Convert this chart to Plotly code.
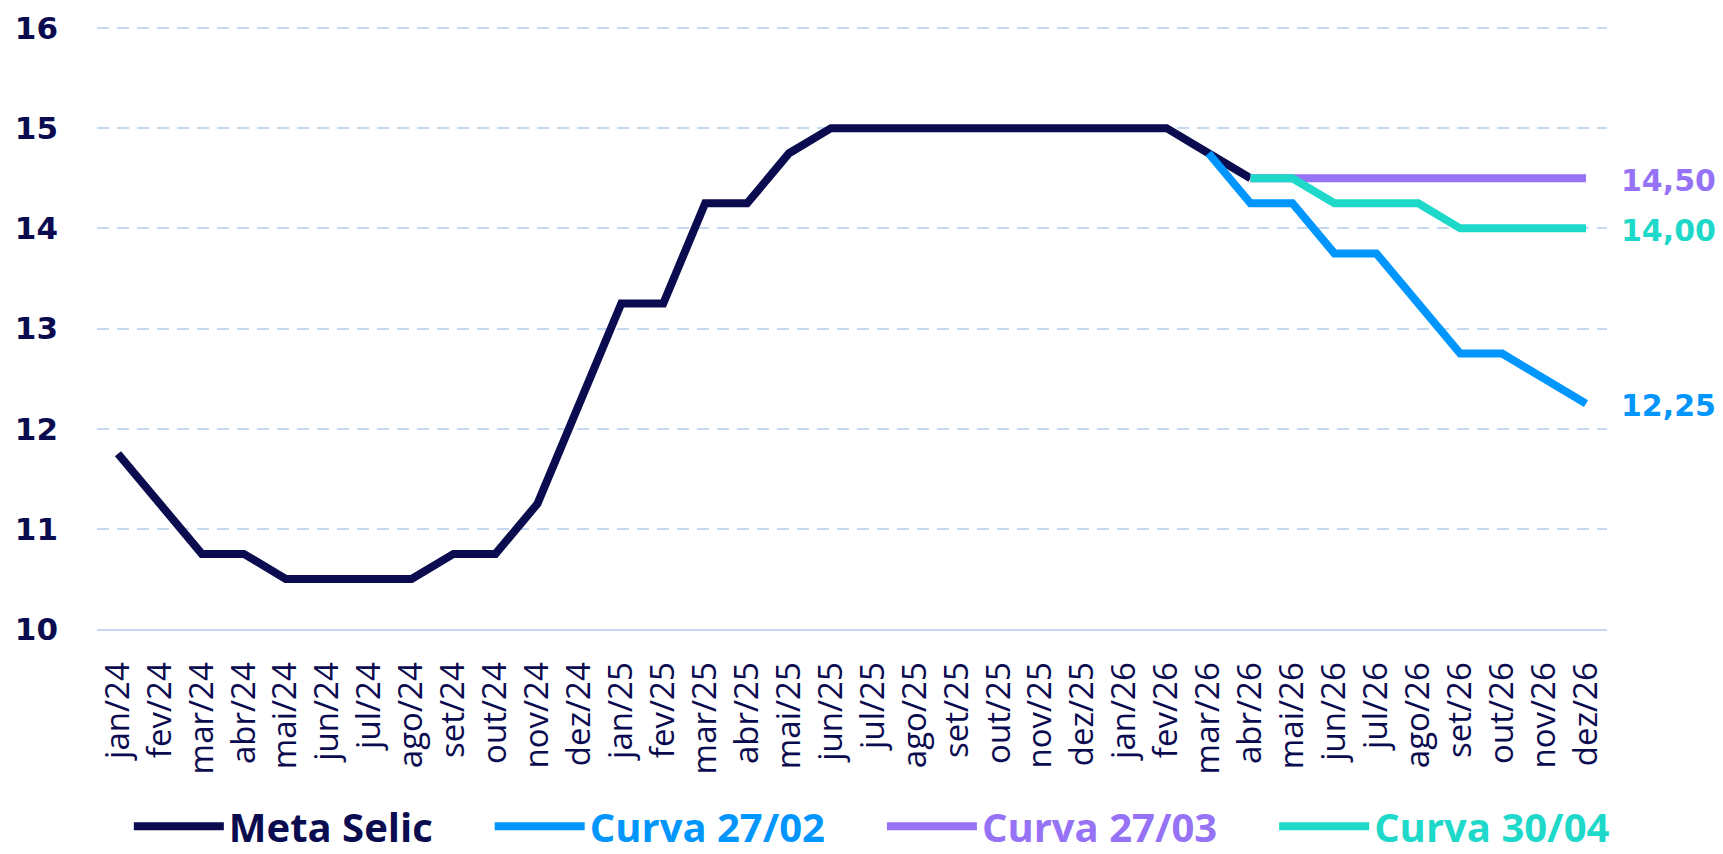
import plotly.graph_objects as go

months = ["jan", "fev", "mar", "abr", "mai", "jun", "jul", "ago", "set", "out", "nov", "dez"]
years = ["24", "25", "26"]
categories = [f"{m}/{y}" for y in years for m in months]

meta_selic = [11.75, 11.25, 10.75, 10.75, 10.50, 10.50, 10.50, 10.50, 10.75, 10.75, 11.25, 12.25,
              13.25, 13.25, 14.25, 14.25, 14.75, 15.00, 15.00, 15.00, 15.00, 15.00, 15.00, 15.00,
              15.00, 15.00, 14.75, 14.50]
curva_2702_x = categories[26:]
curva_2702 = [14.75, 14.25, 14.25, 13.75, 13.75, 13.25, 12.75, 12.75, 12.50, 12.25]
curva_2703_x = categories[27:]
curva_2703 = [14.50, 14.50, 14.50, 14.50, 14.50, 14.50, 14.50, 14.50, 14.50]
curva_3004_x = categories[27:]
curva_3004 = [14.50, 14.50, 14.25, 14.25, 14.25, 14.00, 14.00, 14.00, 14.00]

series_names = ["Meta Selic", "Curva 27/02", "Curva 27/03", "Curva 30/04"]
end_labels = ["14,50", "14,00", "12,25"]
y_ticks = [10, 11, 12, 13, 14, 15, 16]

NAVY = "#0b0b50"
BLUE = "#0096fe"
PURPLE = "#9672f6"
TEAL = "#1ed8c9"
GRID = "#c6d9f1"

fig = go.Figure()
series = [
    (series_names[0], categories[:len(meta_selic)], meta_selic, NAVY),
    (series_names[1], curva_2702_x, curva_2702, BLUE),
    (series_names[2], curva_2703_x, curva_2703, PURPLE),
    (series_names[3], curva_3004_x, curva_3004, TEAL),
]
for i, (name, xs, ys, col) in enumerate(series):
    pad = "" if i == len(series) - 1 else "\u00a0" * 5
    fig.add_trace(go.Scatter(
        x=xs, y=ys, name=f'<span style="color:{col}">{name}</span>{pad}', mode="lines",
        line=dict(color=col, width=8),
    ))

for txt, yv, col in [(end_labels[0], curva_2703[-1], PURPLE),
                     (end_labels[1], curva_3004[-1], TEAL),
                     (end_labels[2], curva_2702[-1], BLUE)]:
    fig.add_annotation(
        x=categories[-1], y=yv, text=txt, showarrow=False,
        xanchor="left", yanchor="middle", xshift=33, yshift=-2,
        font=dict(family="DejaVu Sans", size=30, color=col, weight="bold"),
    )

fig.update_layout(
    width=1723, height=854,
    margin=dict(l=97, r=116, t=26, b=225, autoexpand=False),
    paper_bgcolor="white", plot_bgcolor="white",
    showlegend=True,
    legend=dict(
        orientation="h", xref="container", yref="paper",
        x=0.506, xanchor="center", y=-0.327, yanchor="middle",
        font=dict(family="Open Sans", size=40, weight="bold", color=NAVY),
        itemwidth=90, itemclick=False,
    ),
    xaxis=dict(
        type="category", categoryorder="array", categoryarray=categories,
        range=[-0.5, len(categories) - 0.5],
        tickmode="array", tickvals=categories, ticktext=categories,
        tickangle=-90, ticklabelstandoff=18, automargin=False,
        tickfont=dict(family="Open Sans", size=33, color=NAVY),
        showgrid=False, showline=True, linecolor=GRID, linewidth=2,
        ticks="", zeroline=False,
    ),
    yaxis=dict(
        range=[10, 16.02], tickmode="array", tickvals=y_ticks,
        ticktext=[str(v) for v in y_ticks],
        tickfont=dict(family="DejaVu Sans", size=31, color=NAVY, weight="bold"),
        ticklabelstandoff=38, automargin=False,
        showgrid=True, gridcolor=GRID, gridwidth=2, griddash="12px,8px",
        zeroline=False, showline=False, ticks="",
    ),
)

fig.write_html(
    "out.html",
    config={"displayModeBar": False},
    post_script="document.body.style.margin='0';document.body.style.overflow='hidden';",
)
